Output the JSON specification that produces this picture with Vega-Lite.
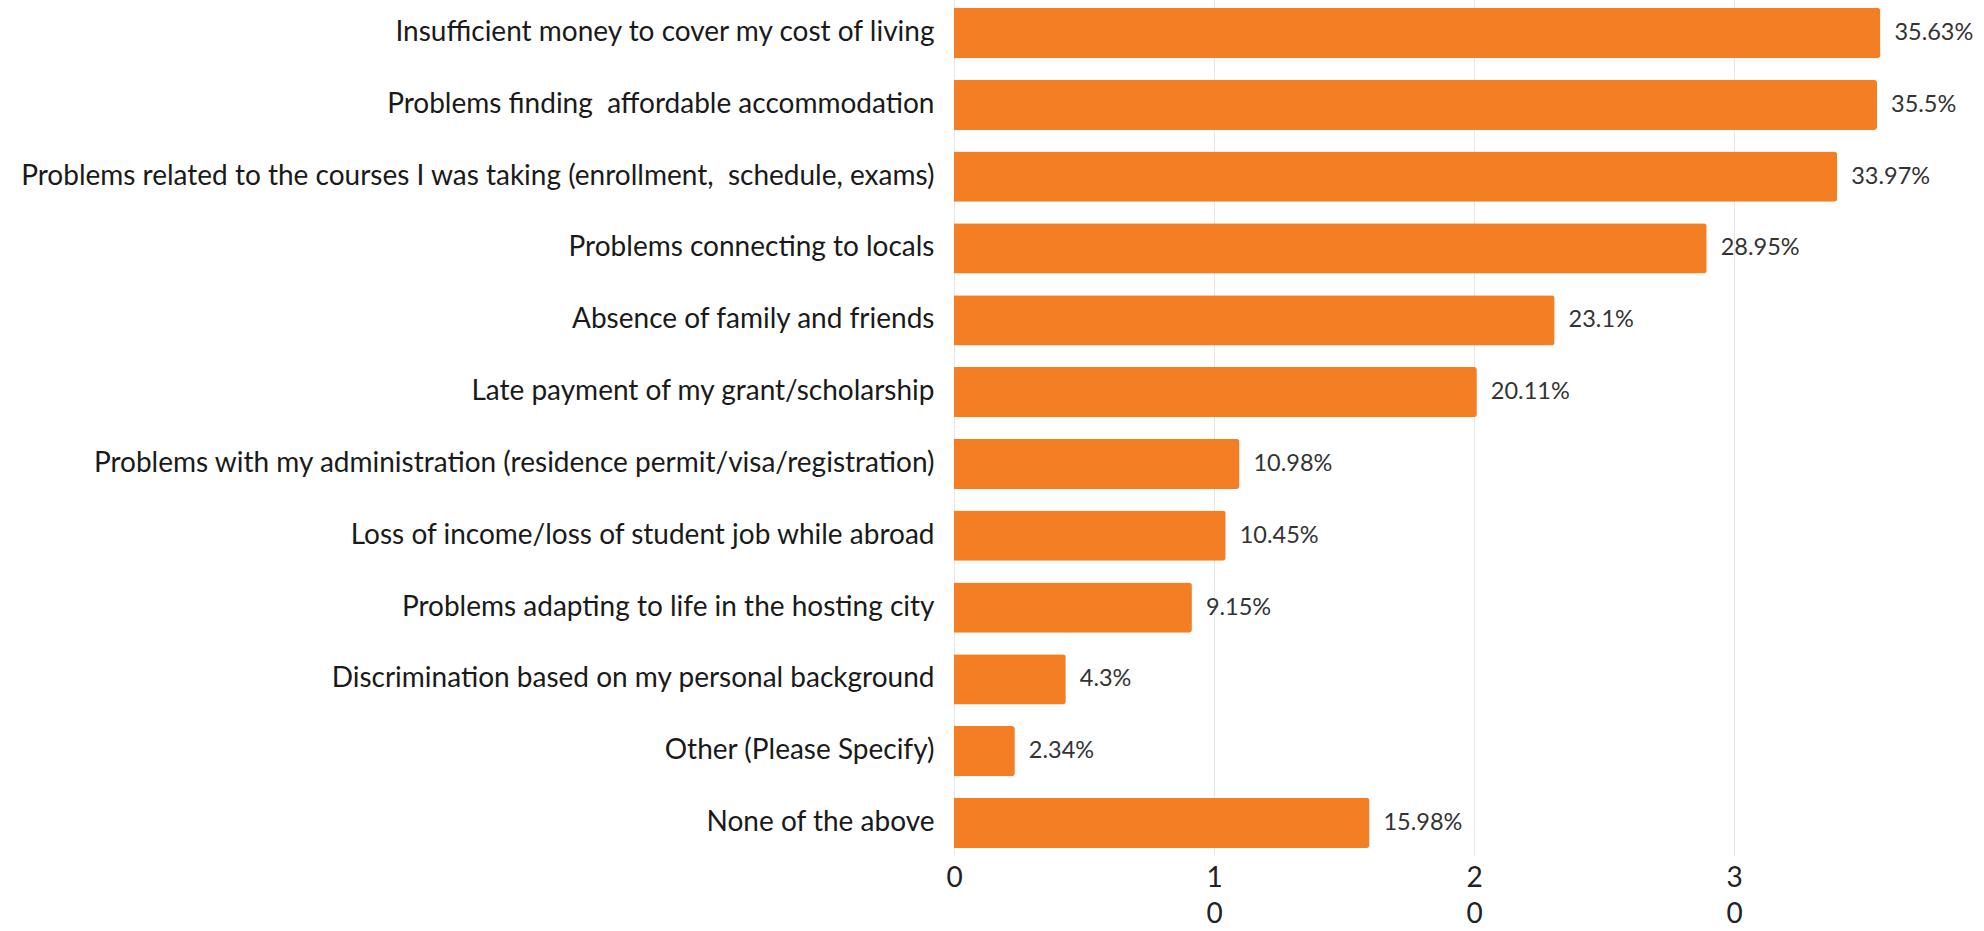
{
  "$schema": "https://vega.github.io/schema/vega-lite/v6.json",
  "width": 936,
  "height": 856,
  "padding": {"left": 0, "top": 0, "right": 5, "bottom": 0},
  "background": "white",
  "config": {"view": {"stroke": null}, "font": "Lato"},
  "data": {
    "values": [
      {"problem": "Insufficient money to cover my cost of living", "pct": 35.63},
      {"problem": "Problems finding\u00a0 affordable accommodation", "pct": 35.5},
      {"problem": "Problems related to the courses I was taking (enrollment,\u00a0 schedule, exams)", "pct": 33.97},
      {"problem": "Problems connecting to locals", "pct": 28.95},
      {"problem": "Absence of family and friends", "pct": 23.1},
      {"problem": "Late payment of my grant/scholarship", "pct": 20.11},
      {"problem": "Problems with my administration (residence permit/visa/registration)", "pct": 10.98},
      {"problem": "Loss of income/loss of student job while abroad", "pct": 10.45},
      {"problem": "Problems adapting to life in the hosting city", "pct": 9.15},
      {"problem": "Discrimination based on my personal background", "pct": 4.3},
      {"problem": "Other (Please Specify)", "pct": 2.34},
      {"problem": "None of the above", "pct": 15.98}
    ]
  },
  "transform": [{"calculate": "datum.pct + '%'", "as": "label"}],
  "encoding": {
    "y": {
      "field": "problem",
      "type": "nominal",
      "sort": null,
      "title": null,
      "scale": {"paddingInner": 0.3, "paddingOuter": 0.11},
      "axis": {
        "ticks": false,
        "domain": false,
        "labelFontSize": 28,
        "labelColor": "#1a1a1a",
        "labelPadding": 20,
        "labelLimit": 1000,
        "minExtent": 954,
        "maxExtent": 954
      }
    },
    "x": {
      "field": "pct",
      "type": "quantitative",
      "title": null,
      "scale": {"domain": [0, 36], "nice": false},
      "axis": {
        "values": [0, 10, 20, 30],
        "ticks": false,
        "domain": false,
        "gridColor": "#e6e6e6",
        "gridWidth": 1,
        "labelFontSize": 28,
        "labelColor": "#222222",
        "labelPadding": 8,
        "labelLineHeight": 36,
        "labelFlush": false,
        "labelExpr": "split(datum.label, '')"
      }
    }
  },
  "layer": [
    {
      "mark": {"type": "bar", "color": "#F47E23", "cornerRadiusEnd": 3}
    },
    {
      "mark": {"type": "text", "align": "left", "baseline": "middle", "dx": 14, "fontSize": 23.5, "color": "#333333"},
      "encoding": {"text": {"field": "label"}}
    }
  ]
}
